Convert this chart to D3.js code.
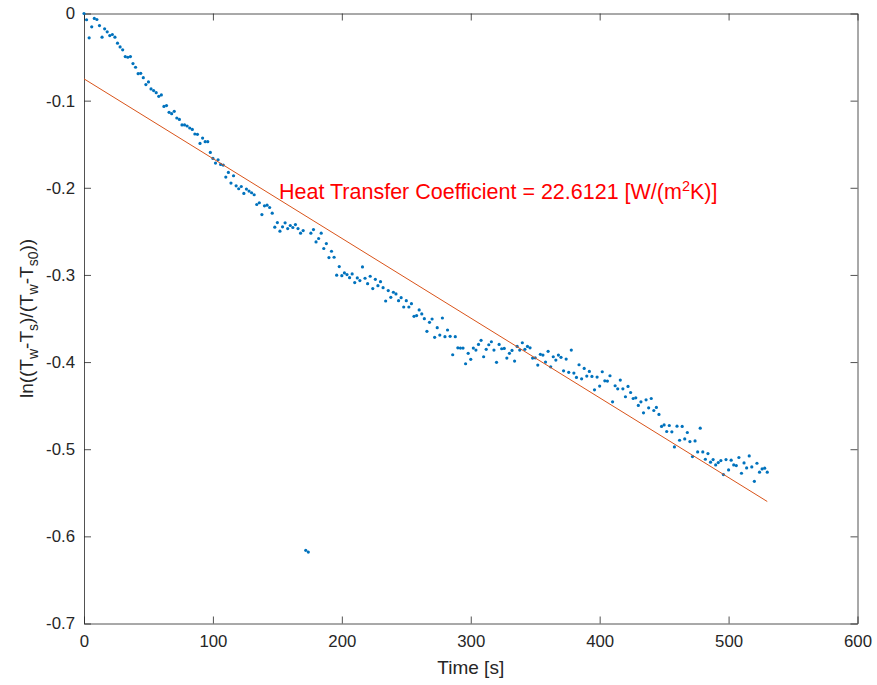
<!DOCTYPE html>
<html>
<head>
<meta charset="utf-8">
<script src="https://cdn.jsdelivr.net/npm/d3@7"></script>
<style>
	body { margin: 0; background: #fff; }
	#chart svg { display: block; }
</style>
</head>
<body>
<div id="chart"></div>
<script>
// measured samples (time in s, every 2 s)
var timeS = [
	0,2,4,6,8,10,12,14,16,18,20,22,24,26,28,30,32,34,36,38,
	40,42,44,46,48,50,52,54,56,58,60,62,64,66,68,70,72,74,76,78,
	80,82,84,86,88,90,92,94,96,98,100,102,104,106,108,110,112,114,116,118,
	120,122,124,126,128,130,132,134,136,138,140,142,144,146,148,150,152,154,156,158,
	160,162,164,166,168,170,172,174,176,178,180,182,184,186,188,190,192,194,196,198,
	200,202,204,206,208,210,212,214,216,218,220,222,224,226,228,230,232,234,236,238,
	240,242,244,246,248,250,252,254,256,258,260,262,264,266,268,270,272,274,276,278,
	280,282,284,286,288,290,292,294,296,298,300,302,304,306,308,310,312,314,316,318,
	320,322,324,326,328,330,332,334,336,338,340,342,344,346,348,350,352,354,356,358,
	360,362,364,366,368,370,372,374,376,378,380,382,384,386,388,390,392,394,396,398,
	400,402,404,406,408,410,412,414,416,418,420,422,424,426,428,430,432,434,436,438,
	440,442,444,446,448,450,452,454,456,458,460,462,464,466,468,470,472,474,476,478,
	480,482,484,486,488,490,492,494,496,498,500,502,504,506,508,510,512,514,516,518,
	520,522,524,526,528,530
];

// ln((Tw-Ts)/(Tw-Ts0))
var lnRatio = [
	0,-0.0072,-0.0279,-0.0153,-0.0057,-0.0069,-0.0138,-0.0272,-0.0176,-0.0210,
	-0.0253,-0.0241,-0.0272,-0.0341,-0.0383,-0.0417,-0.0494,-0.0502,-0.0494,-0.0575,
	-0.0617,-0.0690,-0.0686,-0.0736,-0.0816,-0.0785,-0.0866,-0.0885,-0.0908,-0.0951,
	-0.0934,-0.1066,-0.1057,-0.1134,-0.1149,-0.1123,-0.1199,-0.1215,-0.1279,-0.1279,
	-0.1291,-0.1314,-0.1330,-0.1383,-0.1387,-0.1491,-0.1429,-0.1471,-0.1471,-0.1594,
	-0.1663,-0.1716,-0.1678,-0.1732,-0.1739,-0.1877,-0.1824,-0.1946,-0.1862,-0.1977,
	-0.2011,-0.1985,-0.2065,-0.2015,-0.2038,-0.2057,-0.2080,-0.2192,-0.2172,-0.2307,
	-0.2207,-0.2199,-0.2226,-0.2291,-0.2452,-0.2399,-0.2498,-0.2448,-0.2402,-0.2468,
	-0.2433,-0.2456,-0.2422,-0.2468,-0.2521,-0.2491,-0.6160,-0.6180,-0.2521,-0.2479,
	-0.2621,-0.2582,-0.2521,-0.2697,-0.2640,-0.2801,-0.2728,-0.2797,-0.3003,-0.2904,
	-0.3008,-0.2977,-0.2996,-0.3031,-0.2989,-0.3088,-0.3034,-0.3065,-0.2908,-0.3038,
	-0.3100,-0.3015,-0.3157,-0.3050,-0.3123,-0.3077,-0.3146,-0.3299,-0.3180,-0.3257,
	-0.3199,-0.3218,-0.3295,-0.3261,-0.3368,-0.3295,-0.3368,-0.3330,-0.3475,-0.3467,
	-0.3402,-0.3448,-0.3502,-0.3647,-0.3544,-0.3506,-0.3716,-0.3605,-0.3690,-0.3494,
	-0.3709,-0.3632,-0.3705,-0.3916,-0.3709,-0.3836,-0.3839,-0.3839,-0.4019,-0.3900,
	-0.3969,-0.3839,-0.3862,-0.3797,-0.3751,-0.3939,-0.3854,-0.3801,-0.3767,-0.3862,
	-0.4003,-0.3797,-0.3847,-0.3843,-0.3954,-0.3900,-0.3866,-0.3989,-0.3820,-0.3862,
	-0.3778,-0.3854,-0.3820,-0.3836,-0.3954,-0.3951,-0.4034,-0.3911,-0.3920,-0.4000,
	-0.3877,-0.4054,-0.3939,-0.3977,-0.3920,-0.3946,-0.4100,-0.3966,-0.4118,-0.3862,
	-0.4126,-0.4176,-0.4031,-0.4192,-0.4073,-0.4161,-0.4107,-0.4165,-0.4318,-0.4172,
	-0.4276,-0.4111,-0.4215,-0.4218,-0.4157,-0.4456,-0.4272,-0.4307,-0.4207,-0.4307,
	-0.4398,-0.4280,-0.4349,-0.4418,-0.4410,-0.4498,-0.4456,-0.4582,-0.4433,-0.4525,
	-0.4418,-0.4556,-0.4521,-0.4601,-0.4739,-0.4721,-0.4797,-0.4728,-0.4801,-0.4974,
	-0.4736,-0.4897,-0.4739,-0.4882,-0.4808,-0.4912,-0.5084,-0.4905,-0.5031,-0.4759,
	-0.5031,-0.5115,-0.5050,-0.5149,-0.5119,-0.5180,-0.5153,-0.5130,-0.5291,-0.5119,
	-0.5238,-0.5126,-0.5180,-0.5188,-0.5095,-0.5276,-0.5157,-0.5215,-0.5077,-0.5203,
	-0.5368,-0.5161,-0.5264,-0.5226,-0.5218,-0.5264
];

// fitted line end points
var fitT = [0, 530];
var fitY = [-0.075, -0.560];

var xTicks = [0, 100, 200, 300, 400, 500, 600];
var yTicks = [0, -0.1, -0.2, -0.3, -0.4, -0.5, -0.6, -0.7];

var annotation = "Heat Transfer Coefficient = 22.6121 [W/(m";

makeChart();

function makeChart()
{
	var width = 877;
	var height = 685;
	var margin = {top: 13.5, right: 19.5, bottom: 61.5, left: 84};
	var w = width - margin.left - margin.right;
	var h = height - margin.top - margin.bottom;
	var axisColor = "#262626";
	var font = "'Liberation Sans', Arial, Helvetica, sans-serif";

	var svg = d3.select("#chart")
	.append("svg")
	.attr("width", width)
	.attr("height", height)
	.style("font-family", font);

	var g = svg.append("g")
	.attr("transform", "translate(" + margin.left + "," + margin.top + ")");

	var x = d3.scaleLinear().domain([0, 600]).range([0, w]);
	var y = d3.scaleLinear().domain([-0.7, 0]).range([h, 0]);

	var fmt = function(d) { return d === 0 ? "0" : String(+d.toFixed(1)); };

	// axes, ticks pointing inward like matlab
	var bottom = g.append("g")
	.attr("transform", "translate(0," + h + ")")
	.call(d3.axisBottom(x).tickValues(xTicks).tickFormat(fmt).tickSizeInner(-7).tickSizeOuter(0).tickPadding(12));
	var left = g.append("g")
	.call(d3.axisLeft(y).tickValues(yTicks).tickFormat(fmt).tickSizeInner(-7).tickSizeOuter(0).tickPadding(9));
	var top = g.append("g")
	.call(d3.axisTop(x).tickValues(xTicks).tickFormat("").tickSizeInner(-7).tickSizeOuter(0));
	var right = g.append("g")
	.attr("transform", "translate(" + w + ",0)")
	.call(d3.axisRight(y).tickValues(yTicks).tickFormat("").tickSizeInner(-7).tickSizeOuter(0));

	[bottom, left, top, right].forEach(function(a) {
		a.select(".domain").attr("stroke", axisColor).attr("stroke-width", 0.8);
		a.selectAll(".tick line").attr("stroke", axisColor).attr("stroke-width", 0.8);
		a.selectAll(".tick text")
		.attr("fill", axisColor)
		.style("font-size", "16.8px")
		.style("font-family", font);
	});

	// data points
	var pts = timeS.map(function(t, i) { return [t, lnRatio[i]]; });
	g.append("g")
	.selectAll("circle")
	.data(pts)
	.enter()
	.append("circle")
	.attr("cx", function(d) { return x(d[0]); })
	.attr("cy", function(d) { return y(d[1]); })
	.attr("r", 1.6)
	.attr("fill", "#0072BD");

	// fit line
	var line = d3.line()
	.x(function(d) { return x(d[0]); })
	.y(function(d) { return y(d[1]); });
	g.append("path")
	.datum(fitT.map(function(t, i) { return [t, fitY[i]]; }))
	.attr("d", line)
	.attr("fill", "none")
	.attr("stroke", "#D95319")
	.attr("stroke-width", 1);

	// annotation
	var note = svg.append("text")
	.attr("x", 279)
	.attr("y", 199)
	.attr("fill", "#ff0000")
	.style("font-size", "21.5px");
	note.append("tspan").text(annotation);
	note.append("tspan").attr("dy", -8).style("font-size", "14.5px").text("2");
	note.append("tspan").attr("dy", 8).text("K)]");

	// x label
	svg.append("text")
	.attr("x", margin.left + w / 2)
	.attr("y", 674)
	.attr("text-anchor", "middle")
	.attr("fill", axisColor)
	.style("font-size", "19px")
	.text("Time [s]");

	// y label with subscripts
	var yl = svg.append("text")
	.attr("transform", "translate(33," + (margin.top + h / 2) + ") rotate(-90)")
	.attr("text-anchor", "middle")
	.attr("fill", axisColor)
	.style("font-size", "19px");
	var parts = [["ln((T", 0], ["w", 1], ["-T", 0], ["s", 1], [")/(T", 0], ["w", 1], ["-T", 0], ["s0", 1], ["))", 0]];
	var prev = 0;
	parts.forEach(function(p) {
		var shift = p[1] ? 5 : 0;
		var ts = yl.append("tspan").attr("dy", shift - prev).text(p[0]);
		if (p[1]) ts.style("font-size", "14px");
		prev = shift;
	});
}
</script>
</body>
</html>
